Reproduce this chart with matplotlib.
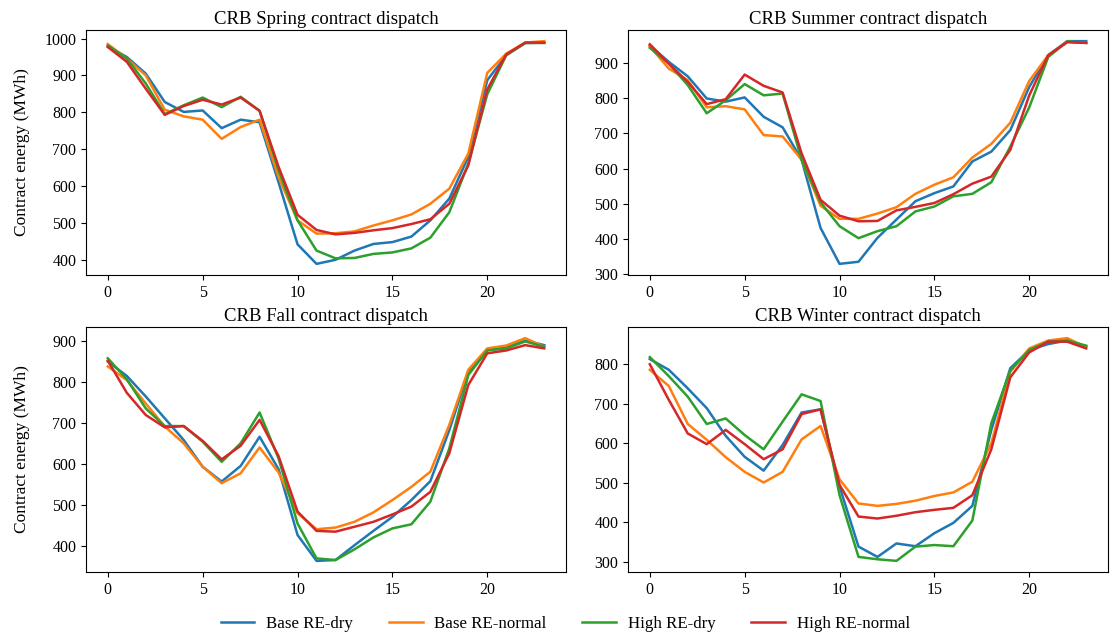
import matplotlib
matplotlib.use("Agg")
import matplotlib.pyplot as plt

plt.rcParams['font.family'] = ['Liberation Serif', 'DejaVu Serif']

hours = list(range(24))
scenarios = ['Base RE-dry', 'Base RE-normal', 'High RE-dry', 'High RE-normal']

# Spring
spring_base_dry = [979, 950, 905, 828, 801, 805, 757, 780, 773, 610, 442, 389, 400, 425,
                   443, 448, 463, 507, 566, 679, 887, 955, 988, 989]
spring_base_normal = [985, 946, 900, 807, 789, 780, 728, 760, 780, 624, 507, 471, 472, 477,
                      493, 507, 523, 552, 593, 688, 907, 959, 989, 993]
spring_high_dry = [981, 946, 878, 795, 819, 840, 814, 842, 804, 642, 507, 425, 404, 405,
                   416, 420, 431, 460, 529, 661, 849, 955, 988, 988]
spring_high_normal = [977, 937, 864, 793, 817, 834, 821, 840, 804, 652, 522, 481, 469, 473,
                      480, 486, 497, 510, 552, 656, 862, 957, 989, 989]

# Summer
summer_base_dry = [950, 903, 862, 799, 790, 802, 747, 717, 625, 431, 329, 335, 403, 455,
                   507, 530, 549, 620, 648, 709, 832, 922, 962, 962]
summer_base_normal = [947, 884, 851, 774, 777, 768, 695, 691, 625, 494, 457, 457, 472, 490,
                      528, 554, 575, 631, 670, 730, 849, 922, 960, 957]
summer_high_dry = [943, 898, 837, 757, 794, 840, 808, 813, 625, 504, 436, 402, 422, 436,
                   478, 492, 521, 528, 561, 662, 774, 917, 961, 957]
summer_high_normal = [953, 898, 846, 783, 797, 867, 835, 816, 643, 511, 466, 450, 451, 481,
                      491, 502, 527, 557, 577, 653, 808, 922, 959, 957]

# Fall
fall_base_dry = [849, 814, 764, 711, 658, 593, 557, 595, 666, 587, 427, 364, 366, 402,
                 437, 471, 512, 558, 682, 825, 877, 884, 900, 889]
fall_base_normal = [837, 804, 747, 691, 650, 593, 553, 577, 640, 579, 480, 441, 445, 459,
                    482, 512, 544, 581, 695, 829, 881, 888, 906, 885]
fall_high_dry = [857, 806, 735, 692, 692, 654, 605, 650, 725, 613, 455, 370, 366, 392,
                 421, 443, 453, 508, 638, 816, 876, 881, 898, 885]
fall_high_normal = [851, 773, 719, 689, 692, 656, 611, 644, 707, 619, 484, 437, 435, 447,
                    459, 477, 496, 532, 626, 792, 869, 876, 889, 881]

# Winter
winter_base_dry = [813, 786, 739, 689, 619, 566, 531, 596, 678, 686, 491, 339, 313, 347,
                   340, 373, 399, 442, 634, 790, 836, 851, 860, 845]
winter_base_normal = [786, 745, 649, 609, 565, 528, 501, 528, 610, 644, 509, 448, 442, 447,
                      455, 467, 476, 503, 600, 781, 840, 860, 866, 843]
winter_high_dry = [818, 770, 718, 649, 663, 621, 585, 655, 724, 707, 469, 313, 307, 303,
                   339, 343, 340, 405, 651, 784, 836, 857, 860, 847]
winter_high_normal = [800, 710, 625, 598, 634, 598, 560, 585, 674, 686, 495, 415, 410, 417,
                      426, 432, 437, 469, 585, 767, 830, 857, 857, 840]

seasons = {
    'Spring': [spring_base_dry, spring_base_normal, spring_high_dry, spring_high_normal],
    'Summer': [summer_base_dry, summer_base_normal, summer_high_dry, summer_high_normal],
    'Fall': [fall_base_dry, fall_base_normal, fall_high_dry, fall_high_normal],
    'Winter': [winter_base_dry, winter_base_normal, winter_high_dry, winter_high_normal],
}

fig = plt.figure(figsize=(11.13, 6.34), dpi=100)
W, H = 1113.0, 634.0
# axes boxes in pixels: left, top, right, bottom
boxes = [(86, 30, 566, 275), (628, 30, 1108, 275),
         (86, 327, 566, 572), (628, 327, 1108, 572)]

lines = []
for i, (season, series) in enumerate(seasons.items()):
    l, t, r, b = boxes[i]
    ax = fig.add_axes([l / W, 1 - b / H, (r - l) / W, (b - t) / H])
    for s, vals in zip(scenarios, series):
        ln, = ax.plot(hours, vals, lw=1.8, label=s)
        if i == 0:
            lines.append(ln)
    ax.set_title('CRB %s contract dispatch' % season, fontsize=13.5, pad=4)
    ax.tick_params(labelsize=11.5)
    ax.set_xticks([0, 5, 10, 15, 20])
    if i % 2 == 0:
        ax.set_ylabel('Contract energy (MWh)', fontsize=12.5)
        ax.yaxis.set_label_coords(-0.117, 0.5)

fig.legend(lines, scenarios, loc='center', bbox_to_anchor=(0.508, 1 - 624 / H),
           ncol=4, frameon=False, fontsize=12.2, handlelength=2.0, handletextpad=0.7,
           columnspacing=2.1)

fig.savefig('out.png', dpi=100)
